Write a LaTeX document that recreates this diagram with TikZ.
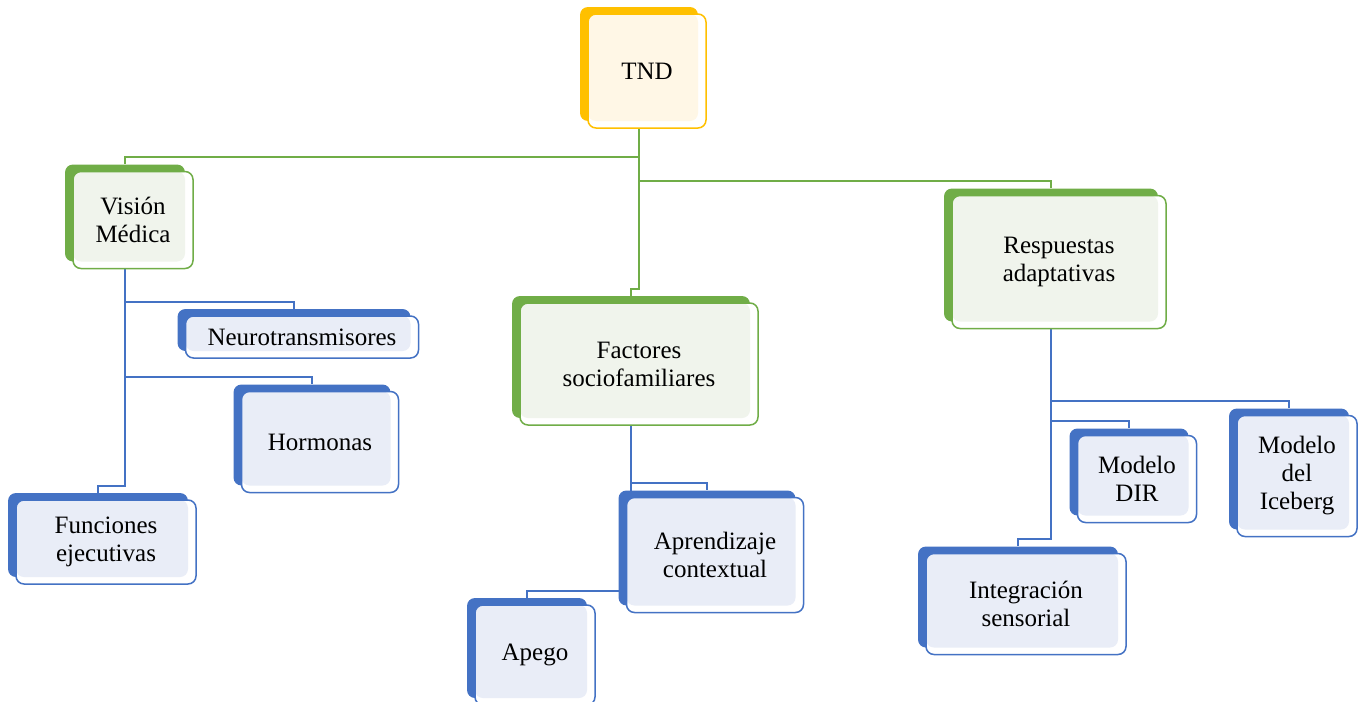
\documentclass[tikz,border=0pt]{standalone}
\usepackage{fontspec}
\setmainfont{Liberation Serif}
\usetikzlibrary{backgrounds}

\definecolor{ycol}{HTML}{FFC000}
\definecolor{yfill}{HTML}{FFF7E6}
\definecolor{gcol}{HTML}{70AD47}
\definecolor{gfill}{HTML}{F0F4EC}
\definecolor{bcol}{HTML}{4472C4}
\definecolor{bfill}{HTML}{E9EDF7}

\tikzset{
  back/.style={fill=#1col, rounded corners=4pt, inner sep=0pt},
  front/.style={draw=#1col, fill=white, line width=0.75pt, rounded corners=4pt,
    inner sep=0pt, align=center, font=\fontsize{12.5}{14}\selectfont,
    path picture={\fill[#1fill, rounded corners=4pt] (path picture bounding box.north west)
      rectangle ([xshift=-4pt,yshift=3.5pt]path picture bounding box.south east);}},
  link/.style={draw=#1col, line width=1pt}
}

\begin{document}
\begin{tikzpicture}[x=0.5pt, y=-0.5pt]
  \useasboundingbox (0,0) rectangle (1362,702);

  % boxes: back block, then the front card
  \foreach \n/\c/\x/\y/\w/\h/\t in {
      tnd/y/639/64/59/57/TND,
      vm/g/125/213/60/48.5/Visión\\Médica,
      nt/b/294/330/116.5/21/Neurotransmisores,
      ho/b/312/435/78.5/50.5/Hormonas,
      fe/b/98/535/90/42/Funciones\\ejecutivas,
      fs/g/631/357/119/61/Factores\\sociofamiliares,
      ac/b/707/548/88.5/57.5/Aprendizaje\\contextual,
      ap/b/527/648/60/50/Apego,
      ra/g/1051/255/107/66.5/Respuestas\\adaptativas,
      dir/b/1129/472/59.5/43.5/Modelo\\DIR,
      ice/b/1289/469/60/60.5/Modelo\\del\\Iceberg,
      is/b/1018/597/100/50.5/Integración\\sensorial}
  {
    \node[back=\c, minimum width=\w pt, minimum height=\h pt] (\n b) at (\x,\y) {};
    \node[front=\c, minimum width=\w pt, minimum height=\h pt] (\n) at ([shift={(8,7)}]\n b) {\t};
  }

  \begin{scope}[on background layer]
    \draw[link=g] (tndb) |- ([yshift=3.5pt]vmb.north) -- (vmb.north);
    \draw[link=g] (tndb) |- ([yshift=3.5pt]fsb.north) -- (fsb.north);
    \draw[link=g] (tndb) |- ([yshift=3.5pt]rab.north) -- (rab.north);

    \draw[link=b] (vmb) |- ([yshift=3.5pt]ntb.north) -- (ntb.north);
    \draw[link=b] (vmb) |- ([yshift=3.5pt]hob.north) -- (hob.north);
    \draw[link=b] (vmb) |- ([yshift=3.5pt]feb.north) -- (feb.north);

    \draw[link=b] (fsb) |- ([yshift=3.5pt]acb.north) -- (acb.north);
    \draw[link=b] (fsb) |- ([yshift=3.5pt]apb.north) -- (apb.north);

    \draw[link=b] (rab) |- ([yshift=3.5pt]iceb.north) -- (iceb.north);
    \draw[link=b] (rab) |- ([yshift=3.5pt]dirb.north) -- (dirb.north);
    \draw[link=b] (rab) |- ([yshift=3.5pt]isb.north) -- (isb.north);
  \end{scope}
\end{tikzpicture}
\end{document}
